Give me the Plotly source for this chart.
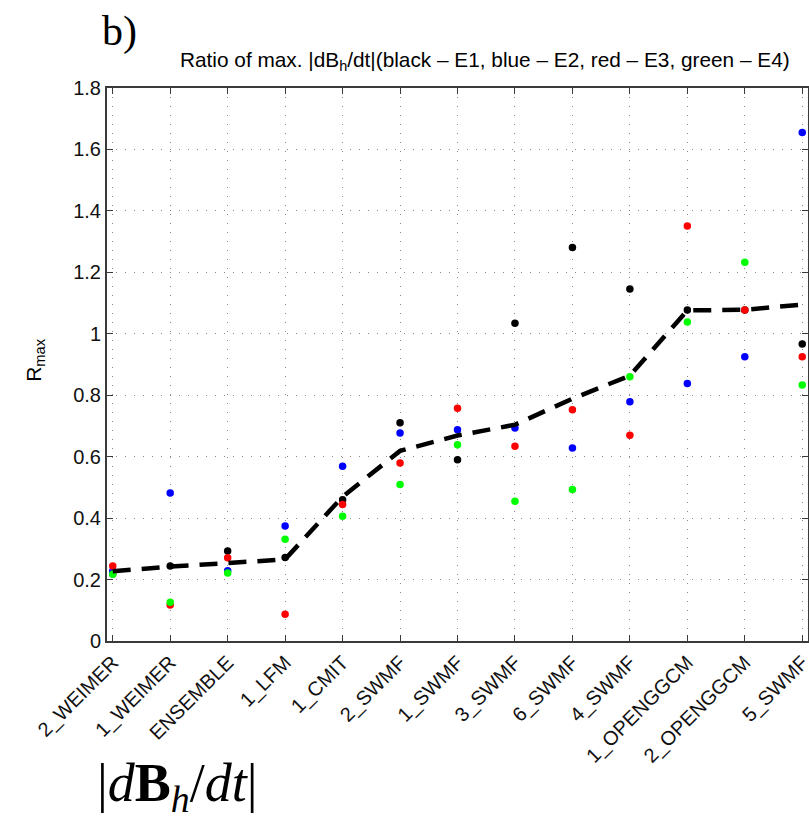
import numpy as np
import plotly.graph_objects as go

models = ["2_WEIMER", "1_WEIMER", "ENSEMBLE", "1_LFM", "1_CMIT", "2_SWMF", "1_SWMF",
          "3_SWMF", "6_SWMF", "4_SWMF", "1_OPENGGCM", "2_OPENGGCM", "5_SWMF"]
e1_black = [0.219, 0.244, 0.293, 0.272, 0.460, 0.710, 0.590, 1.034, 1.281, 1.146, 1.077, 1.077, 0.967]
e2_blue  = [0.228, 0.482, 0.229, 0.374, 0.569, 0.677, 0.688, 0.693, 0.628, 0.779, 0.838, 0.925, 1.655]
e3_red   = [0.244, 0.117, 0.271, 0.087, 0.444, 0.579, 0.758, 0.634, 0.753, 0.670, 1.351, 1.077, 0.925]
e4_green = [0.217, 0.126, 0.221, 0.331, 0.406, 0.509, 0.639, 0.455, 0.493, 0.860, 1.038, 1.233, 0.833]
y_ticks = [0, 0.2, 0.4, 0.6, 0.8, 1.0, 1.2, 1.4, 1.6, 1.8]
y_tick_labels = ["0", "0.2", "0.4", "0.6", "0.8", "1", "1.2", "1.4", "1.6", "1.8"]

x = list(range(1, len(models) + 1))
mean_vals = np.mean(np.array([e1_black, e2_blue, e3_red, e4_green]), axis=0)

fig = go.Figure()
for vals, col, name in [(e1_black, "#000000", "E1"), (e2_blue, "#0000ff", "E2"),
                        (e3_red, "#ff0000", "E3"), (e4_green, "#00ff00", "E4")]:
    fig.add_trace(go.Scatter(x=x, y=vals, mode="markers", name=name,
                             marker=dict(color=col, size=7.5, line=dict(width=0))))
fig.add_trace(go.Scatter(x=x, y=mean_vals, mode="lines", name="mean",
                         line=dict(color="black", width=4.5, dash="18px,11px")))

font = "Liberation Sans, Arial, Helvetica, sans-serif"
serif = "Liberation Serif, Times New Roman, serif"
axis_common = dict(
    showgrid=True, gridcolor="#8a8a8a", griddash="1px,8px", gridwidth=1,
    showline=True, linecolor="#3a3a3a", linewidth=2, mirror="ticks",
    ticks="inside", ticklen=6, tickwidth=1.2, tickcolor="#3a3a3a", zeroline=False,
    ticklabeloverflow="allow",
)
fig.update_layout(
    width=809, height=820,
    margin=dict(l=107, r=1, t=88, b=179, autoexpand=False),
    paper_bgcolor="white", plot_bgcolor="white",
    showlegend=False,
    font=dict(family=font, size=20, color="black"),
    xaxis=dict(range=[0.9, 13.1], tickvals=x, ticktext=models, tickangle=-45,
               tickfont=dict(size=20, family=font, color="#111111"), **axis_common),
    yaxis=dict(range=[0, 1.8], tickvals=y_ticks, ticktext=y_tick_labels,
               tickfont=dict(size=20, family=font, color="#111111"), **axis_common),
    annotations=[
        dict(text="b)", xref="paper", yref="paper", x=-0.01, y=1.0, yshift=57,
             showarrow=False, xanchor="left", yanchor="middle",
             font=dict(family=serif, size=42, color="black")),
        dict(text="Ratio of max. |dB<sub>h</sub>/dt|(black – E1, blue – E2, red – E3, green – E4)",
             xref="paper", yref="paper", x=0.539, y=1.0, yshift=27,
             showarrow=False, xanchor="center", yanchor="middle",
             font=dict(family=font, size=20.8, color="black")),
        dict(text="R<sub>max</sub>", xref="paper", yref="paper", x=-0.103, y=0.508,
             textangle=-90, showarrow=False, xanchor="center", yanchor="middle",
             font=dict(family=font, size=21, color="black")),
        dict(text="|<i>d</i><b>B</b><sub><i>h</i></sub>/<i>dt</i>|", xref="paper", yref="paper",
             x=0.101, y=0.0, yshift=-145, showarrow=False, xanchor="center", yanchor="middle",
             font=dict(family=serif, size=54, color="black")),
    ],
)
fig.write_html("out.html", config={"displayModeBar": False},
               post_script="document.body.style.margin='0';document.body.style.overflow='hidden';")
